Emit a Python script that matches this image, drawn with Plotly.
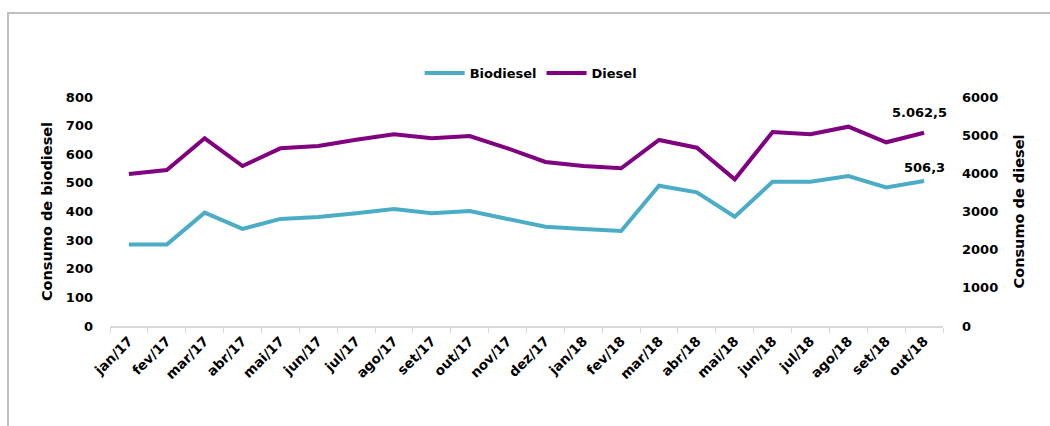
import plotly.graph_objects as go

# Monthly consumption, Jan/2017 to Oct/2018
meses = ["jan/17", "fev/17", "mar/17", "abr/17", "mai/17", "jun/17", "jul/17",
         "ago/17", "set/17", "out/17", "nov/17", "dez/17", "jan/18", "fev/18",
         "mar/18", "abr/18", "mai/18", "jun/18", "jul/18", "ago/18", "set/18",
         "out/18"]
biodiesel = [285, 285, 396, 339, 374, 381, 394, 409, 394, 402, 374, 347,
             339, 332, 490, 467, 382, 504, 504, 524, 484, 506.3]
diesel = [3982, 4087, 4917, 4192, 4655, 4716, 4880, 5022, 4917, 4978, 4655,
          4297, 4192, 4131, 4873, 4672, 3843, 5083, 5022, 5222, 4813, 5062.5]

left_ticks = list(range(0, 801, 100))
right_ticks = list(range(0, 6001, 1000))

COR_BIO = "#4BACC6"
COR_DIE = "#800080"
FONTE = "DejaVu Sans"


def fonte(size):
    return dict(family=FONTE, size=size, color="#000000", weight="bold")


fig = go.Figure()
fig.add_trace(go.Scatter(x=meses, y=biodiesel, name="Biodiesel", mode="lines",
                         line=dict(color=COR_BIO, width=4), yaxis="y"))
fig.add_trace(go.Scatter(x=meses, y=diesel, name="Diesel", mode="lines",
                         line=dict(color=COR_DIE, width=4), yaxis="y2"))

# value labels on the last month
fig.add_annotation(x=meses[-1], y=biodiesel[-1], yref="y",
                   text="506,3", showarrow=False, yshift=14, xshift=0,
                   font=fonte(13))
fig.add_annotation(x=meses[-1], y=diesel[-1], yref="y2",
                   text="5.062,5", showarrow=False, yshift=20, xshift=-5,
                   font=fonte(13))

# chart frame
fig.add_shape(type="rect", xref="paper", yref="paper",
              x0=(8 - 110) / 833, x1=(1070 - 110) / 833,
              y0=(326 - 445) / 229, y1=(326 - 13) / 229,
              line=dict(color="#BFBFBF", width=2), fillcolor="rgba(0,0,0,0)",
              layer="below")

fig.update_layout(
    width=1050, height=426,
    margin=dict(l=110, r=107, t=97, b=100, autoexpand=False),
    paper_bgcolor="#FFFFFF", plot_bgcolor="#FFFFFF",
    font=fonte(13),
    showlegend=True,
    legend=dict(orientation="h", x=0.505, y=1.105, xanchor="center",
                yanchor="middle", font=fonte(13),
                itemwidth=40, bgcolor="rgba(0,0,0,0)"),
    xaxis=dict(type="category", range=[-0.5, len(meses) - 0.5],
               tickangle=-45, tickson="boundaries", ticks="outside",
               ticklen=5, tickcolor="#D9D9D9", showline=True,
               linecolor="#D9D9D9", linewidth=2, showgrid=False,
               zeroline=False, tickfont=fonte(13.5)),
    yaxis=dict(range=[0, 800], tickvals=left_ticks, showgrid=False,
               zeroline=False, showline=False, ticks="",
               ticklabelstandoff=16,
               tickfont=fonte(13),
               title=dict(text="Consumo de biodiesel", standoff=9,
                          font=fonte(14.5))),
    yaxis2=dict(range=[0, 6000], tickvals=right_ticks, overlaying="y",
                side="right", showgrid=False, zeroline=False, showline=False,
                ticks="", ticklabelstandoff=18,
                tickfont=fonte(13),
                title=dict(text="Consumo de diesel", standoff=16,
                           font=fonte(14.5))),
)

fig.write_html("out.html")
